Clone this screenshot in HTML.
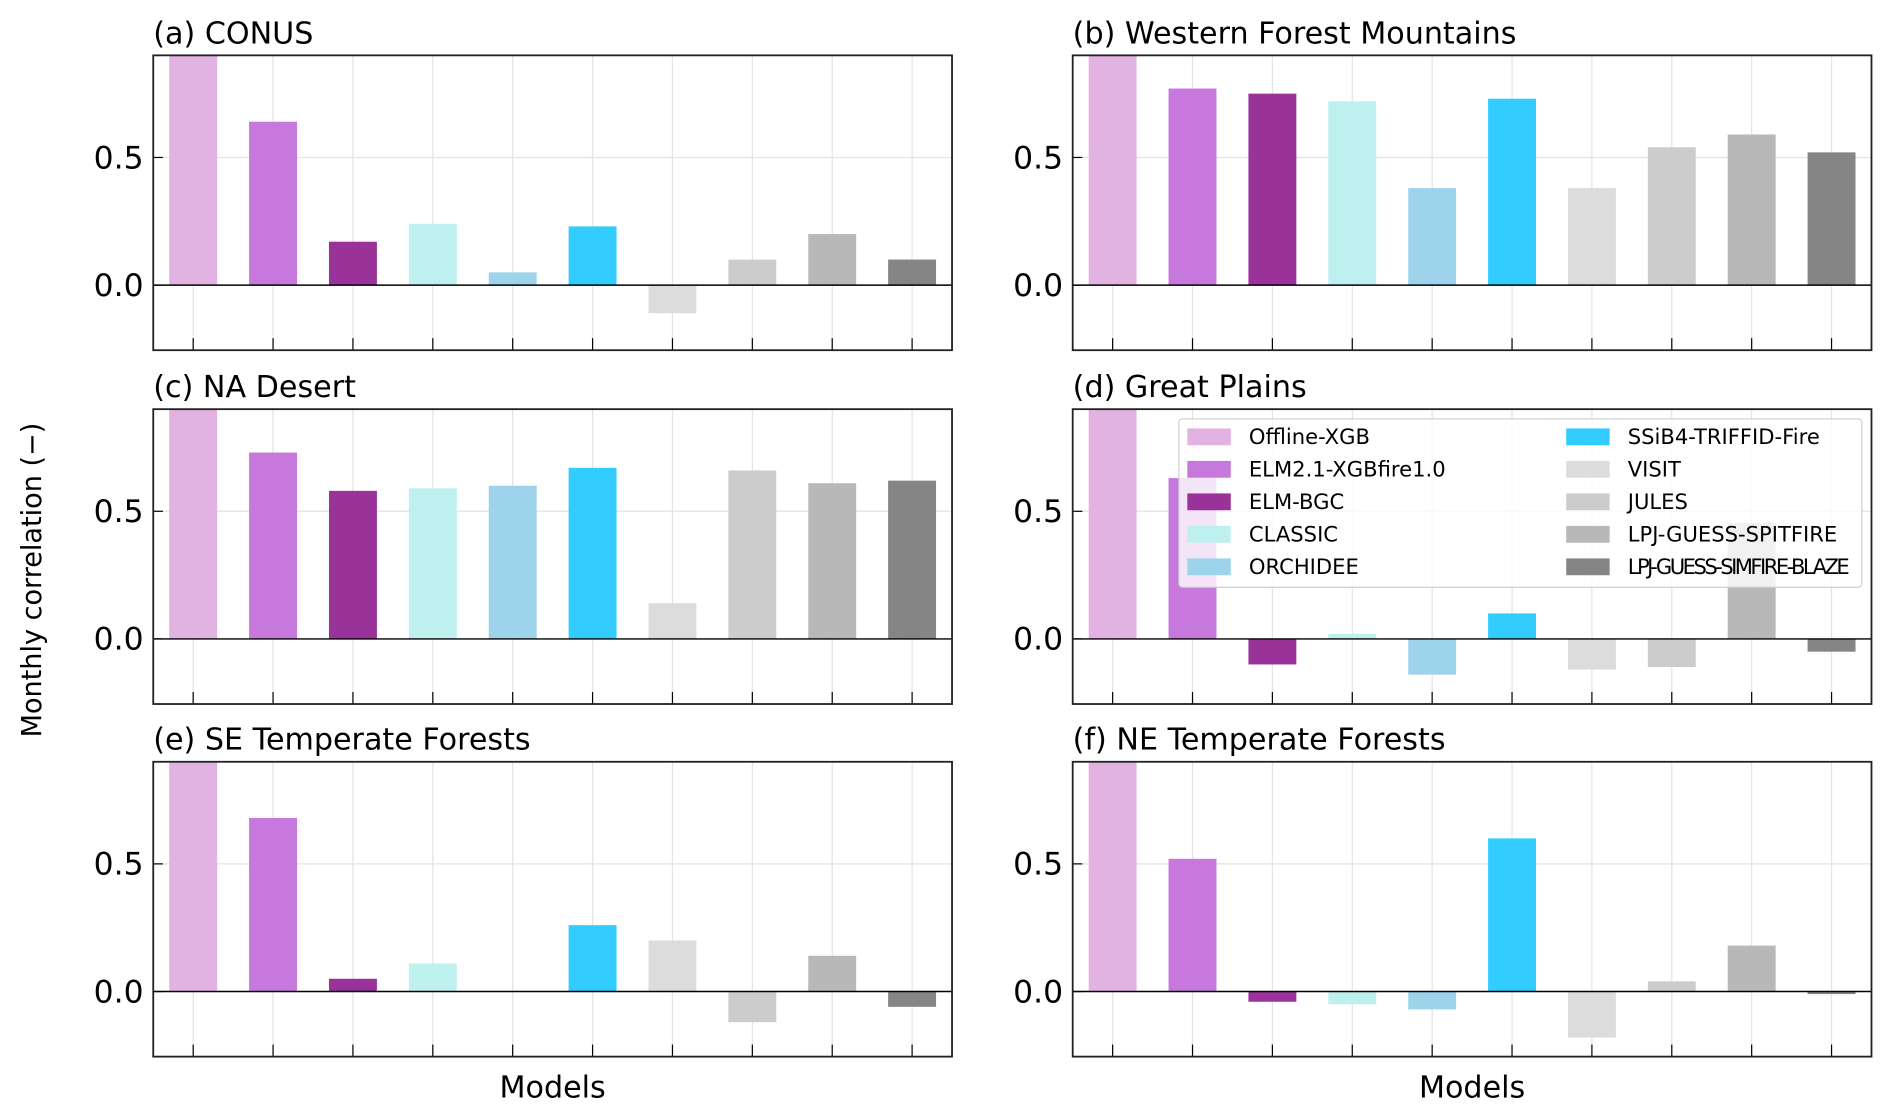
<!DOCTYPE html>
<html><head><meta charset="utf-8"><style>
html,body{margin:0;padding:0;background:#fff;}
svg{display:block;font-family:"DejaVu Sans","Liberation Sans",sans-serif;}
</style></head><body>
<svg id="fig" width="1892" height="1118" viewBox="0 0 1568 929" preserveAspectRatio="none" xmlns="http://www.w3.org/2000/svg">
<text x="0" y="0" transform="translate(34,482) rotate(-90)" text-anchor="middle" font-size="22.5">Monthly correlation (−)</text>
</svg>
<script>
const models = ["Offline-XGB","ELM2.1-XGBfire1.0","ELM-BGC","CLASSIC","ORCHIDEE","SSiB4-TRIFFID-Fire","VISIT","JULES","LPJ-GUESS-SPITFIRE","LPJ-GUESS-SIMFIRE-BLAZE"];
const colors = ["#e2b3e2","#c678dc","#993399","#bff0f0","#9dd4ec","#33ccff","#dcdcdc","#cccccc","#b8b8b8","#858585"];
const titles = ["(a) CONUS","(b) Western Forest Mountains","(c) NA Desert","(d) Great Plains","(e) SE Temperate Forests","(f) NE Temperate Forests"];
const valuesA = [1.0,0.64,0.17,0.24,0.05,0.23,-0.11,0.10,0.20,0.10];
const valuesB = [1.0,0.77,0.75,0.72,0.38,0.73,0.38,0.54,0.59,0.52];
const valuesC = [1.0,0.73,0.58,0.59,0.60,0.67,0.14,0.66,0.61,0.62];
const valuesD = [1.0,0.63,-0.10,0.02,-0.14,0.10,-0.12,-0.11,0.455,-0.05];
const valuesE = [1.0,0.68,0.05,0.11,null,0.26,0.20,-0.12,0.14,-0.06];
const valuesF = [1.0,0.52,-0.04,-0.05,-0.07,0.60,-0.18,0.04,0.18,-0.01];
const yTicks = [0.0,0.5];
const yTickLabels = ["0.0","0.5"];
const allValues = [valuesA,valuesB,valuesC,valuesD,valuesE,valuesF];

const NS="http://www.w3.org/2000/svg";
const svg=document.getElementById('fig');
function mk(tag,attrs,parent){const e=document.createElementNS(NS,tag);for(const k in attrs)e.setAttribute(k,attrs[k]);(parent||svg).appendChild(e);return e;}
const YMIN=-0.255, YMAX=0.9;
const lefts=[127,889], tops=[46,340,633], W=662, H=245;
allValues.forEach((vals,pi)=>{
  const col=pi%2,row=Math.floor(pi/2);
  const L=lefts[col],T=tops[row];
  const xs=i=>L+(i+0.5)/10*W;
  const ys=v=>T+(YMAX-v)/(YMAX-YMIN)*H;
  const g=mk('g',{});
  
  
  const cp=mk('clipPath',{id:'cp'+pi},g);mk('rect',{x:L,y:T,width:W,height:H},cp);
  const t=mk('text',{x:L,y:T-10,'font-size':25},g);t.textContent=titles[pi];
  
  
  models.forEach((m,i)=>{mk('line',{x1:xs(i),x2:xs(i),y1:T,y2:T+H,stroke:'#e3e3e3','stroke-width':1},g);});
  mk('line',{x1:L,x2:L+W,y1:ys(0.5),y2:ys(0.5),stroke:'#e3e3e3','stroke-width':1},g);
  const bg=mk('g',{'clip-path':'url(#cp'+pi+')'},g);
  vals.forEach((v,i)=>{
    if(v===null)return;
    const y0=ys(0),y1=ys(v);
    const r=mk('rect',{x:xs(i)-0.3*W/10,width:0.6*W/10,y:Math.min(y0,y1),height:Math.abs(y1-y0),fill:colors[i]},bg);
    
    
  });
  mk('line',{x1:L,x2:L+W,y1:ys(0),y2:ys(0),stroke:'#000','stroke-width':1.2},g);
  yTicks.forEach((tv,k)=>{
    mk('line',{x1:L,x2:L+8,y1:ys(tv),y2:ys(tv),stroke:'#000','stroke-width':1},g);
    const tl=mk('text',{x:L-8,y:ys(tv)+9,'text-anchor':'end','font-size':26},g);tl.textContent=yTickLabels[k];
    
    
  });
  models.forEach((m,i)=>{mk('line',{x1:xs(i),x2:xs(i),y1:T+H,y2:T+H-10,stroke:'#000','stroke-width':1},g);});
  mk('rect',{x:L,y:T,width:W,height:H,fill:'none',stroke:'#222','stroke-width':1.5},g);
  if(row===2){const xl=mk('text',{x:L+W/2,y:T+H+34,'text-anchor':'middle','font-size':25},g);xl.textContent='Models';
    
    }
});
const lg=mk('g',{});


mk('rect',{x:977,y:348,width:566,height:140,rx:3,fill:'rgba(255,255,255,0.8)',stroke:'#d0d0d0','stroke-width':1},lg);
models.forEach((m,i)=>{
  const c=Math.floor(i/5),r=i%5;
  const px=c?1298:984, py=356+r*27;
  const e=mk('g',{},lg);
  
  
  mk('rect',{x:px,y:py,width:36,height:14,fill:colors[i]},e);
  const tx=mk('text',{x:px+51,y:py+13,'font-size':17.5},e);tx.textContent=m;
  if(m.length>20) tx.setAttribute('textLength','184');
});
</script>
</body></html>
